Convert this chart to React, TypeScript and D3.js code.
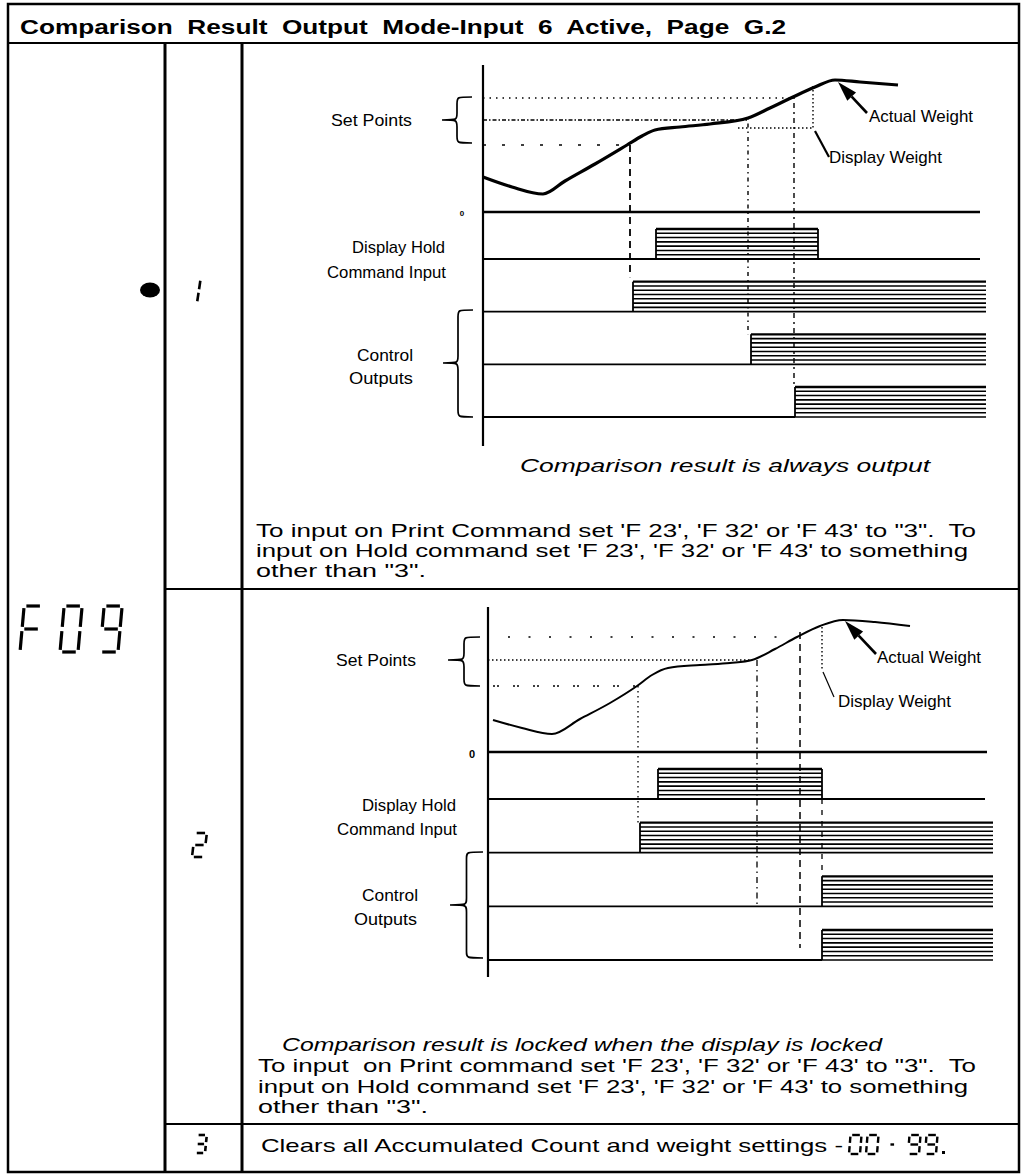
import React from "react";
import * as d3 from "d3";

const FONT = "'Liberation Sans', Arial, Helvetica, sans-serif";

// ---------------- text ----------------
const titleText = "Comparison  Result  Output  Mode-Input  6  Active,  Page  G.2";
const caption1 = "Comparison result is always output";
const caption2 = "Comparison result is locked when the display is locked";
const para1 = [
  "To input on Print Command set 'F 23', 'F 32' or 'F 43' to \"3\".  To",
  "input on Hold command set 'F 23', 'F 32' or 'F 43' to something",
  "other than \"3\".",
];
const para2 = [
  "To input  on Print command set 'F 23', 'F 32' or 'F 43' to \"3\".  To",
  "input on Hold command set 'F 23', 'F 32' or 'F 43' to something",
  "other than \"3\".",
];
const row3Text = "Clears all Accumulated Count and weight settings -";
const chartLabels = ["Set Points", "Display Hold", "Command Input", "Control", "Outputs"];

// ---------------- chart 1 data (time units 0-100, weight units above zero) ----------------
const c1Time = [0, 5.8, 12, 16.4, 22.4, 28.8, 31.8, 34.4, 39.4, 45.4, 53, 57.4, 62, 66.4, 70.4, 75.4, 83];
const c1Weight = [35, 25, 18, 31, 48, 67, 76, 82, 85, 88, 94, 104, 115, 125, 132, 130, 127];
const c1SetPoints = [114, 92, 67];
const c1SetPointStart = [0, 0, 0];
const c1SetPointEnd = [62.4, 53, 28.8];
const c1TraceStart = [34.6, 30, 53.6, 62.4];
const c1TraceEnd = [67, 100.6, 100.6, 100.6];
const c1DropTime = [29.4, 53, 62.2];
const c1DropWeight = [67, 94, 115];
const c1DropLane = [1, 2, 3];
const c1DropFrac = [-0.15, 0, 0];
const c1DisplayTime = [51, 66];
const c1DisplayWeight = [84, 126];

// ---------------- chart 2 data ----------------
const c2Time = [1, 6.8, 12.8, 18.4, 24.4, 29.8, 32.8, 36, 42.4, 48.4, 52.8, 57.4, 61.8, 66.4, 71, 77.4, 84.4];
const c2Weight = [32, 24, 18, 33, 49, 66, 77, 84, 87, 89, 92, 103, 115, 126, 132, 130, 126];
const c2SetPoints = [115, 92, 66];
const c2SetPointStart = [4, 0, 1];
const c2SetPointEnd = [58, 52.8, 29.8];
const c2TraceStart = [34, 30.4, 66.8, 66.8];
const c2TraceEnd = [66.8, 101, 101, 101];
const c2DropTime = [30, 53.8, 62.4, 66.8];
const c2DropWeight = [66, 92, 120, -47];
const c2DropLane = [1, 2, 3, 2];
const c2DropFrac = [0, 1, 0.6, 0];
const c2DisplayTime = [66.8, 66.8];
const c2DisplayWeight = [82, 125];

type Cfg = {
  time: number[]; weight: number[];
  sp: number[]; spStart: number[]; spEnd: number[]; spDash: string[];
  tStart: number[]; tEnd: number[]; lane0End: number; zeroEnd: number;
  dTime: number[]; dWeight: number[]; dLane: number[]; dFrac: number[]; dDash: string[]; dWidth: number[];
  dispTime: number[]; dispWeight: number[]; dispH: boolean;
  axisX: number; xRight: number; zeroY: number; axisTop: number; axisBottom: number;
  laneTop: number; laneBottom: number; laneH: number; curveW: number;
  labelPos: [number, number][]; labelW: number[];
  brace1: number[]; brace2: number[];
  arrowTip: [number, number]; arrowTail: [number, number]; actualText: [number, number];
  dispPointer: [number, number, number, number]; dispText: [number, number]; pointerW: number;
  zeroMark: [number, number]; zeroSize: number;
};

const cfg1: Cfg = {
  time: c1Time, weight: c1Weight,
  sp: c1SetPoints, spStart: c1SetPointStart, spEnd: c1SetPointEnd,
  spDash: ["1.5 5", "4 2 1.5 2", "3 16"],
  tStart: c1TraceStart, tEnd: c1TraceEnd, lane0End: 99.4, zeroEnd: 99.4,
  dTime: c1DropTime, dWeight: c1DropWeight, dLane: c1DropLane, dFrac: c1DropFrac,
  dDash: ["7 5", "1.5 4 4 4", "2 4 5 4"], dWidth: [1.8, 1.4, 1.4],
  dispTime: c1DisplayTime, dispWeight: c1DisplayWeight, dispH: true,
  axisX: 483, xRight: 983, zeroY: 212, axisTop: 65, axisBottom: 446,
  laneTop: 259, laneBottom: 417, laneH: 30, curveW: 3.2,
  labelPos: [[412, 126], [445, 253], [446, 278], [413, 361], [413, 384]],
  labelW: [81, 93, 119, 56, 64],
  brace1: [442, 472, 97, 143, 120], brace2: [443, 473, 310, 417, 363],
  arrowTip: [71, 130], arrowTail: [29, 31], actualText: [869, 122],
  dispPointer: [2, 3, 16, 29], dispText: [829, 163], pointerW: 2.2,
  zeroMark: [462, 216], zeroSize: 8,
};

const cfg2: Cfg = {
  time: c2Time, weight: c2Weight,
  sp: c2SetPoints, spStart: c2SetPointStart, spEnd: c2SetPointEnd,
  spDash: ["2 18.5", "1.5 2.5", "2 2 2 14"],
  tStart: c2TraceStart, tEnd: c2TraceEnd, lane0End: 99.4, zeroEnd: 99.8,
  dTime: c2DropTime, dWeight: c2DropWeight, dLane: c2DropLane, dFrac: c2DropFrac,
  dDash: ["1.5 3.5", "6 4 1.5 4", "7 5", "5 6"], dWidth: [1.3, 1.3, 1.5, 1.3],
  dispTime: c2DisplayTime, dispWeight: c2DisplayWeight, dispH: false,
  axisX: 488, xRight: 988, zeroY: 752, axisTop: 607, axisBottom: 977,
  laneTop: 799, laneBottom: 960, laneH: 30, curveW: 2,
  labelPos: [[416, 666], [456, 811], [457, 835], [418, 901], [417, 925]],
  labelW: [80, 94, 120, 56, 63],
  brace1: [448, 480, 637, 686, 660], brace2: [450, 483, 852, 958, 905],
  arrowTip: [71.4, 131], arrowTail: [31, 33], actualText: [877, 663],
  dispPointer: [1, 2, 12, 27], dispText: [838, 707], pointerW: 1.2,
  zeroMark: [472, 758], zeroSize: 11,
};

function bracePath(xTip: number, xEnd: number, yTop: number, yBot: number, yTip: number) {
  const xm = xTip + (xEnd - xTip) * 0.5;
  const q = 7;
  return `M${xEnd},${yTop} C${xm},${yTop} ${xm},${yTop} ${xm},${yTop + q} L${xm},${yTip - q} C${xm},${yTip} ${xm},${yTip} ${xTip},${yTip} C${xm},${yTip} ${xm},${yTip} ${xm},${yTip + q} L${xm},${yBot - q} C${xm},${yBot} ${xm},${yBot} ${xEnd},${yBot}`;
}

function TimingChart({ c }: { c: Cfg }) {
  const x = d3.scaleLinear().domain([0, 100]).range([c.axisX, c.xRight]);
  const y = d3.scaleLinear().domain([0, 150]).range([c.zeroY, c.zeroY - 150]);
  const lane = d3.scalePoint<number>().domain([0, 1, 2, 3]).range([c.laneTop, c.laneBottom]);
  const line = d3
    .line<number>()
    .x((i) => x(c.time[i]))
    .y((i) => y(c.weight[i]))
    .curve(d3.curveMonotoneX);
  const idx = d3.range(c.time.length);
  const H = c.laneH;
  const tip = [x(c.arrowTip[0]), y(c.arrowTip[1])];
  const tail = [tip[0] + c.arrowTail[0], tip[1] + c.arrowTail[1]];
  const ang = Math.atan2(tip[1] - tail[1], tip[0] - tail[0]);
  const hl = 20, hw = 6;
  const bx = tip[0] - hl * Math.cos(ang), by = tip[1] - hl * Math.sin(ang);
  const head = `M${tip[0]},${tip[1]} L${bx + hw * Math.sin(ang)},${by - hw * Math.cos(ang)} L${bx - hw * Math.sin(ang)},${by + hw * Math.cos(ang)} Z`;
  const dpx = x(c.dispTime[1]);
  const dpy = y(c.dispWeight[0]);
  return (
    <g fontFamily={FONT}>
      <line x1={c.axisX} x2={c.axisX} y1={c.axisTop} y2={c.axisBottom} stroke="#000" strokeWidth={2.2} />
      <line x1={c.axisX} x2={x(c.zeroEnd)} y1={y(0)} y2={y(0)} stroke="#000" strokeWidth={2.5} />
      <text x={c.zeroMark[0]} y={c.zeroMark[1]} fontSize={c.zeroSize} fontWeight="bold" textAnchor="middle">0</text>
      {c.sp.map((w, i) => (
        <line key={"sp" + i} x1={x(c.spStart[i])} x2={x(c.spEnd[i])} y1={y(w)} y2={y(w)} stroke="#000" strokeWidth={1.5} strokeDasharray={c.spDash[i]} />
      ))}
      {c.dispH && (
        <line x1={x(c.dispTime[0])} x2={dpx} y1={dpy} y2={dpy} stroke="#000" strokeWidth={1.4} strokeDasharray="1.5 2.5" />
      )}
      <line x1={dpx} x2={dpx} y1={y(c.dispWeight[1])} y2={dpy} stroke="#000" strokeWidth={1.4} strokeDasharray="1.5 2.5" />
      <line x1={dpx + c.dispPointer[0]} y1={dpy + c.dispPointer[1]} x2={dpx + c.dispPointer[2]} y2={dpy + c.dispPointer[3]} stroke="#000" strokeWidth={c.pointerW} />
      {c.dTime.map((t, i) => {
        const y1 = c.dWeight[i] < 0 ? lane(0)! : y(c.dWeight[i]);
        const y2 = lane(c.dLane[i])! - H + c.dFrac[i] * H;
        return <line key={"d" + i} x1={x(t)} x2={x(t)} y1={y1} y2={y2} stroke="#000" strokeWidth={c.dWidth[i]} strokeDasharray={c.dDash[i]} />;
      })}
      <path d={line(idx) || ""} fill="none" stroke="#000" strokeWidth={c.curveW} strokeLinejoin="round" />
      {c.tStart.map((s, i) => {
        const base = lane(i)!;
        const top = base - H;
        const x0 = x(s), x1 = x(c.tEnd[i]);
        const hatch = d3.range(8).map((k) => top + (k * H) / 7);
        return (
          <g key={"t" + i}>
            <line x1={c.axisX} x2={i === 0 ? x(c.lane0End) : x0} y1={base} y2={base} stroke="#000" strokeWidth={1.8} />
            <line x1={x0} x2={x0} y1={base} y2={top} stroke="#000" strokeWidth={1.8} />
            {c.tEnd[i] < 100 && <line x1={x1} x2={x1} y1={base} y2={top} stroke="#000" strokeWidth={1.8} />}
            {hatch.map((hy, k) => (
              <line key={k} x1={x0} x2={x1} y1={hy} y2={hy} stroke="#000" strokeWidth={k === 0 ? 2.3 : 1.6} />
            ))}
          </g>
        );
      })}
      <path d={bracePath(c.brace1[0], c.brace1[1], c.brace1[2], c.brace1[3], c.brace1[4])} fill="none" stroke="#000" strokeWidth={1.7} />
      <path d={bracePath(c.brace2[0], c.brace2[1], c.brace2[2], c.brace2[3], c.brace2[4])} fill="none" stroke="#000" strokeWidth={1.7} />
      {chartLabels.map((s, i) => (
        <text key={"l" + i} x={c.labelPos[i][0] - c.labelW[i]} y={c.labelPos[i][1]} fontSize={17} textLength={c.labelW[i]} lengthAdjust="spacingAndGlyphs">{s}</text>
      ))}
      <line x1={tail[0]} y1={tail[1]} x2={bx} y2={by} stroke="#000" strokeWidth={2.6} />
      <path d={head} fill="#000" />
      <text x={c.actualText[0]} y={c.actualText[1]} fontSize={17} textLength={104} lengthAdjust="spacingAndGlyphs">Actual Weight</text>
      <text x={c.dispText[0]} y={c.dispText[1]} fontSize={17} textLength={113} lengthAdjust="spacingAndGlyphs">Display Weight</text>
    </g>
  );
}

// ---------------- seven segment glyphs ----------------
const SEG_MAP: Record<string, string> = { F: "aefg", "0": "abcdef", "9": "abcdfg", "1": "bc", "2": "abged", "3": "abgcd", "-": "g" };
const SEG_DEF: Record<string, number[][]> = {
  a: [[0, 0], [1, 0]], b: [[1, 0], [1, 0.5]], c: [[1, 0.5], [1, 1]], d: [[0, 1], [1, 1]],
  e: [[0, 0.5], [0, 1]], f: [[0, 0], [0, 0.5]], g: [[0, 0.5], [1, 0.5]],
};
function SevenSeg({ ch, x0, y0, w, h, k, sw }: { ch: string; x0: number; y0: number; w: number; h: number; k: number; sw: number }) {
  const P = (u: number, v: number) => [x0 + u * w + (1 - v) * h * k, y0 + v * h];
  const gap = sw * 0.7;
  return (
    <g>
      {SEG_MAP[ch].split("").map((s) => {
        const [a, b] = SEG_DEF[s];
        const p1 = P(a[0], a[1]), p2 = P(b[0], b[1]);
        const dx = p2[0] - p1[0], dy = p2[1] - p1[1];
        const L = Math.hypot(dx, dy);
        const ux = dx / L, uy = dy / L;
        return (
          <line key={s} x1={p1[0] + ux * gap} y1={p1[1] + uy * gap} x2={p2[0] - ux * gap} y2={p2[1] - uy * gap} stroke="#000" strokeWidth={sw} strokeLinecap="butt" />
        );
      })}
    </g>
  );
}

const fCode = ["F", "0", "9"];
const fCodeX = [20, 60, 100];
const rangeChars = ["0", "0", "-", "9", "9"];
const rangeX = [849, 866, 888, 908, 925];

export default function App() {
  const bodySize = 19;
  return (
    <svg width={1022} height={1176} style={{ position: "absolute", left: 0, top: 0, background: "#fff" }} fontFamily={FONT}>
      <rect x={0} y={0} width={1022} height={1176} fill="#fff" />
      <rect x={8} y={4} width={1011} height={1168} fill="none" stroke="#000" strokeWidth={2.5} />
      <line x1={8} x2={1019} y1={43} y2={43} stroke="#000" strokeWidth={2} />
      <line x1={165} x2={165} y1={43} y2={1172} stroke="#000" strokeWidth={3} />
      <line x1={242} x2={242} y1={43} y2={1172} stroke="#000" strokeWidth={3} />
      <line x1={165} x2={1019} y1={589} y2={589} stroke="#000" strokeWidth={1.8} />
      <line x1={165} x2={1019} y1={1124} y2={1124} stroke="#000" strokeWidth={1.8} />

      <text x={20} y={34} fontSize={20} fontWeight="bold" textLength={766} lengthAdjust="spacingAndGlyphs" style={{ whiteSpace: "pre" }}>{titleText}</text>

      <g aria-label="F 09">
        <title>F 09</title>
        {fCode.map((ch, i) => (
          <SevenSeg key={i} ch={ch} x0={fCodeX[i]} y0={606} w={18} h={46} k={0.09} sw={3.2} />
        ))}
      </g>
      <ellipse cx={150} cy={290} rx={10} ry={7.5} fill="#000" />
      <g aria-label="1"><title>1</title><SevenSeg ch="1" x0={186} y0={279} w={11} h={24} k={0.15} sw={2.6} /></g>
      <g aria-label="2"><title>2</title><SevenSeg ch="2" x0={192} y0={833} w={12} h={24} k={0.12} sw={2.6} /></g>
      <g aria-label="3"><title>3</title><SevenSeg ch="3" x0={195} y0={1135} w={10} h={18} k={0.1} sw={2.6} /></g>

      <TimingChart c={cfg1} />
      <TimingChart c={cfg2} />

      <text x={520} y={472} fontSize={bodySize} fontStyle="italic" textLength={410} lengthAdjust="spacingAndGlyphs">{caption1}</text>
      {para1.map((s, i) => (
        <text key={"p1" + i} x={256} y={537 + i * 20} fontSize={bodySize} textLength={[720, 712, 170][i]} lengthAdjust="spacingAndGlyphs" style={{ whiteSpace: "pre" }}>{s}</text>
      ))}
      <text x={282} y={1051} fontSize={bodySize} fontStyle="italic" textLength={600} lengthAdjust="spacingAndGlyphs">{caption2}</text>
      {para2.map((s, i) => (
        <text key={"p2" + i} x={258} y={1072 + i * 20.5} fontSize={bodySize} textLength={[718, 710, 170][i]} lengthAdjust="spacingAndGlyphs" style={{ whiteSpace: "pre" }}>{s}</text>
      ))}
      <text x={261} y={1152} fontSize={bodySize} textLength={582} lengthAdjust="spacingAndGlyphs">{row3Text}</text>
      <g aria-label="00 - 99.">
        <title>00 - 99.</title>
        {rangeChars.map((ch, i) => (
          <SevenSeg key={i} ch={ch} x0={rangeX[i]} y0={1135} w={ch === "-" ? 7 : 11} h={19} k={0.08} sw={2.4} />
        ))}
        <rect x={942} y={1151} width={3} height={3} fill="#000" />
      </g>
    </svg>
  );
}
